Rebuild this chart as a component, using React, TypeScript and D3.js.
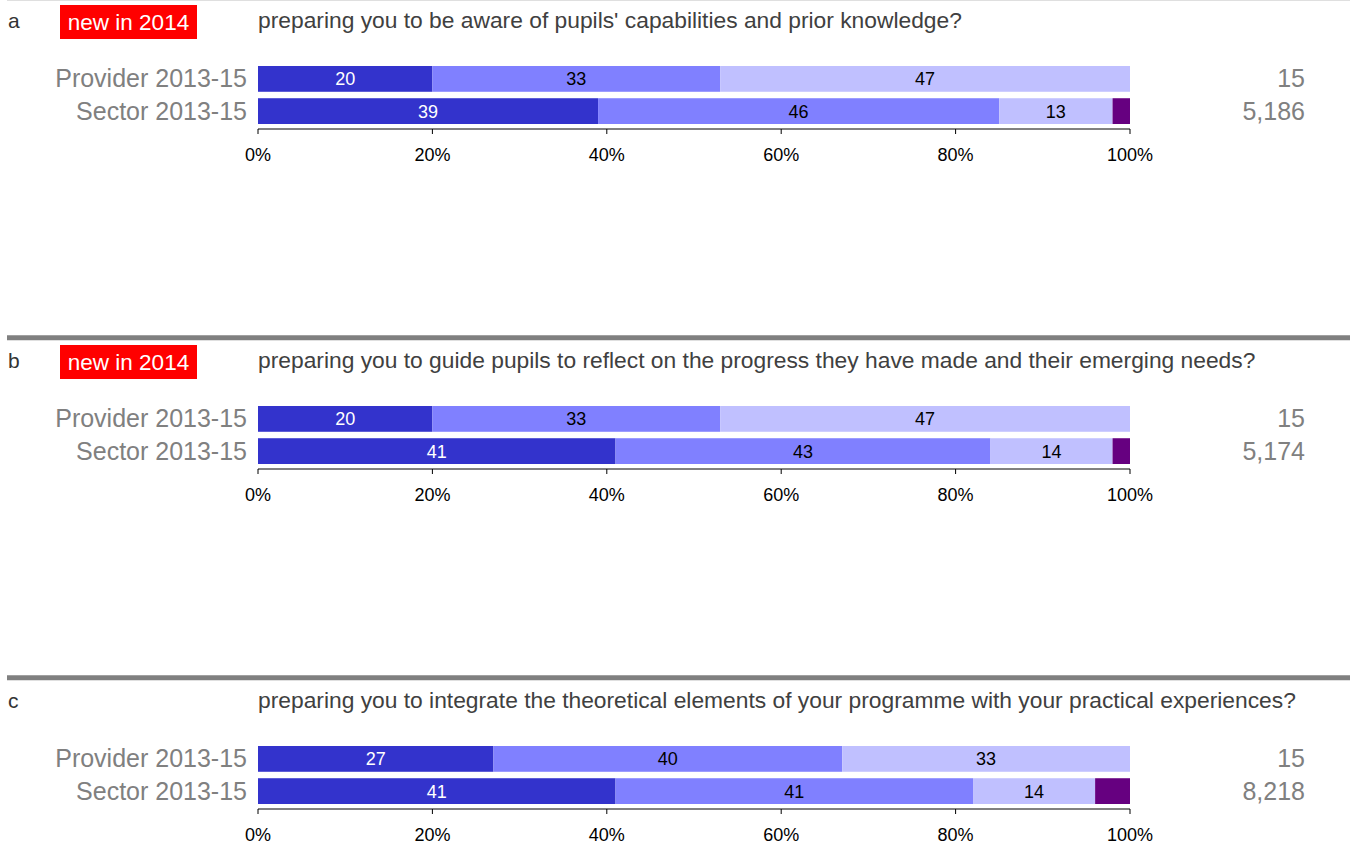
import React from "react";
import * as d3 from "d3";

const panelLetters = ["a", "b", "c"];
const isNew = [true, true, false];
const questions = [
  "preparing you to be aware of pupils' capabilities and prior knowledge?",
  "preparing you to guide pupils to reflect on the progress they have made and their emerging needs?",
  "preparing you to integrate the theoretical elements of your programme with your practical experiences?",
];
const rowLabels = ["Provider 2013-15", "Sector 2013-15"];
// per panel: [provider, sector] -> segments [very good, good, satisfactory, poor]
const providerValues = [
  [20, 33, 47, 0],
  [20, 33, 47, 0],
  [27, 40, 33, 0],
];
const sectorValues = [
  [39, 46, 13, 2],
  [41, 43, 14, 2],
  [41, 41, 14, 4],
];
const providerN = ["15", "15", "15"];
const sectorN = ["5,186", "5,174", "8,218"];
const tickValues = [0, 20, 40, 60, 80, 100];
const segColors = ["#3333CC", "#8080FF", "#C0C0FF", "#660080"];
const segTextColors = ["#ffffff", "#000000", "#000000", "#ffffff"];

const W = 1357;
const H = 846;
const FONT = "Liberation Sans, Arial, Helvetica, sans-serif";

export default function App() {
  const x = d3.scaleLinear().domain([0, 100]).range([258, 1130]);
  const panelStep = 340;
  const rowY = d3.scaleBand().domain(rowLabels).range([66, 124]).paddingInner(0.2);

  return (
    <svg
      width={W}
      height={H}
      style={{ position: "absolute", left: 0, top: 0, fontFamily: FONT }}
    >
      <rect width={W} height={H} fill="#fff" />
      {panelLetters.map((letter, pi) => {
        const o = pi * panelStep;
        const rows = [providerValues[pi], sectorValues[pi]];
        const ns = [providerN[pi], sectorN[pi]];
        return (
          <g key={letter} transform={`translate(0,${o})`}>
            <line x1={7} x2={1350} y1={-2.3} y2={-2.3} stroke="#808080" strokeWidth={5} />
            <text x={8} y={28} fontSize={21} fill="#333">
              {letter}
            </text>
            {isNew[pi] && (
              <g>
                <rect x={60} y={5} width={137} height={34} fill="#FF0000" />
                <text x={128.5} y={29.5} fontSize={22.5} fill="#fff" textAnchor="middle">
                  new in 2014
                </text>
              </g>
            )}
            <text x={258} y={28} fontSize={22.8} fill="#404040">
              {questions[pi]}
            </text>
            {rows.map((vals, ri) => {
              const y0 = rowY(rowLabels[ri])!;
              const bh = rowY.bandwidth();
              let cum = 0;
              const segs = vals.map((v, si) => {
                const start = cum;
                cum += v;
                return { start, v, si };
              });
              return (
                <g key={ri}>
                  <text
                    x={247}
                    y={y0 + bh / 2 + 8.5}
                    fontSize={25}
                    fill="#808080"
                    textAnchor="end"
                  >
                    {rowLabels[ri]}
                  </text>
                  {segs
                    .filter((s) => s.v > 0)
                    .map((s) => (
                      <g key={s.si}>
                        <rect
                          x={x(s.start)}
                          y={y0}
                          width={x(s.start + s.v) - x(s.start)}
                          height={bh}
                          fill={segColors[s.si]}
                        />
                        {s.v >= 5 && (
                          <text
                            x={(x(s.start) + x(s.start + s.v)) / 2}
                            y={y0 + bh / 2 + 6.5}
                            fontSize={18}
                            fill={segTextColors[s.si]}
                            textAnchor="middle"
                          >
                            {s.v}
                          </text>
                        )}
                      </g>
                    ))}
                  <text
                    x={1305}
                    y={y0 + bh / 2 + 8.5}
                    fontSize={25}
                    fill="#808080"
                    textAnchor="end"
                  >
                    {ns[ri]}
                  </text>
                </g>
              );
            })}
            <g>
              <line x1={x(0)} x2={x(100)} y1={129} y2={129} stroke="#000" strokeWidth={1} />
              {tickValues.map((t) => (
                <g key={t}>
                  <line x1={x(t)} x2={x(t)} y1={129} y2={134} stroke="#000" strokeWidth={1} />
                  <text x={x(t)} y={161} fontSize={18} fill="#000" textAnchor="middle">
                    {t}%
                  </text>
                </g>
              ))}
            </g>
          </g>
        );
      })}
    </svg>
  );
}
